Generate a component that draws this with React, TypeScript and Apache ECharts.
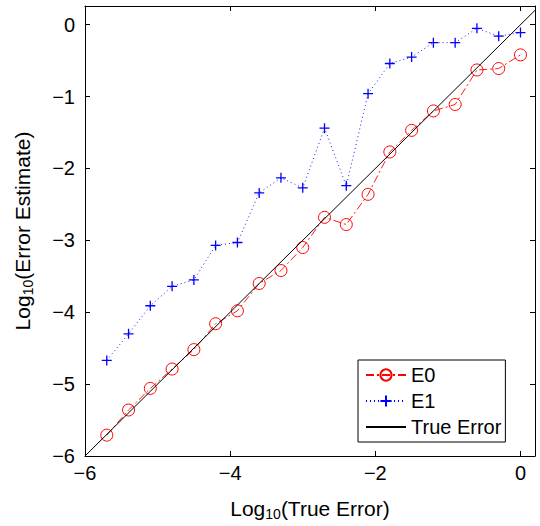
import React, { useEffect, useRef } from "react";
import * as echarts from "echarts";

const xLog = [-5.7, -5.4, -5.1, -4.8, -4.5, -4.2, -3.9, -3.6, -3.3, -3.0, -2.7, -2.4, -2.1, -1.8, -1.5, -1.2, -0.9, -0.6, -0.3, 0];
const e0 = [-5.71, -5.36, -5.06, -4.79, -4.52, -4.16, -3.98, -3.6, -3.42, -3.1, -2.68, -2.78, -2.36, -1.77, -1.47, -1.2, -1.11, -0.63, -0.61, -0.42];
const e1 = [-4.67, -4.3, -3.91, -3.64, -3.55, -3.07, -3.03, -2.34, -2.13, -2.27, -1.44, -2.24, -0.96, -0.54, -0.45, -0.25, -0.25, -0.05, -0.16, -0.11];
const trueErr = [-6, 0.2];
const xTicks = [-6, -4, -2, 0];
const yTicks = [-6, -5, -4, -3, -2, -1, 0];

const FONT = "Liberation Sans, Arial, Helvetica, sans-serif";
const fmt = (v: number) => String(v).replace("-", "\u2212");

export default function App() {
  const ref = useRef<HTMLDivElement>(null);
  useEffect(() => {
    if (!ref.current) return;
    const chart = echarts.init(ref.current, undefined, { renderer: "svg" });
    const axisCommon = {
      type: "value" as const,
      axisLine: { show: true, onZero: false, lineStyle: { color: "#000", width: 1 } },
      splitLine: { show: false },
    };
    const rich = {
      a: { fontSize: 21, fontFamily: FONT, color: "#000" },
      sub: { fontSize: 14, fontFamily: FONT, color: "#000", padding: [12, 0, 0, 0] },
    };
    chart.setOption({
      animation: false,
      grid: { left: 85, right: 5, top: 6, bottom: 67, containLabel: false },
      xAxis: [
        {
          ...axisCommon,
          min: -6,
          max: 0.2,
          position: "bottom",
          axisTick: { show: true, inside: true, length: 5, customValues: xTicks, lineStyle: { color: "#000" } },
          axisLabel: { customValues: xTicks, formatter: fmt, fontSize: 20, fontFamily: FONT, color: "#000", margin: 7 },
          name: "{a|Log}{sub|10}{a|(True Error)}",
          nameLocation: "middle",
          nameGap: 39,
          nameTextStyle: { rich },
        },
        {
          ...axisCommon,
          min: -6,
          max: 0.2,
          position: "top",
          axisTick: { show: true, inside: true, length: 5, customValues: xTicks, lineStyle: { color: "#000" } },
          axisLabel: { show: false },
        },
      ],
      yAxis: [
        {
          ...axisCommon,
          min: -6,
          max: 0.26,
          position: "left",
          axisTick: { show: true, inside: true, length: 5, customValues: yTicks, lineStyle: { color: "#000" } },
          axisLabel: { customValues: yTicks, formatter: fmt, fontSize: 20, fontFamily: FONT, color: "#000", margin: 10 },
          name: "{a|Log}{sub|10}{a|(Error Estimate)}",
          nameLocation: "middle",
          nameRotate: 90,
          nameGap: 50,
          nameTextStyle: { rich },
        },
        {
          ...axisCommon,
          min: -6,
          max: 0.26,
          position: "right",
          axisTick: { show: true, inside: true, length: 5, customValues: yTicks, lineStyle: { color: "#000" } },
          axisLabel: { show: false },
        },
      ],
      legend: {
        orient: "vertical",
        left: 358,
        top: 360,
        padding: [5, 4, 5, 7],
        itemGap: 6,
        itemWidth: 40,
        itemHeight: 14,
        backgroundColor: "#fff",
        borderColor: "#000",
        borderWidth: 1,
        textStyle: { fontSize: 20, fontFamily: FONT, color: "#000" },
        data: ["E0", "E1", { name: "True Error", itemStyle: { opacity: 0 } }],
      },
      series: [
        {
          name: "True Error",
          type: "line",
          data: trueErr.map((v) => [v, v]),
          symbol: "none",
          color: "#000",
          lineStyle: { color: "#000", width: 1 },
          z: 3,
        },
        {
          name: "E0",
          type: "line",
          data: xLog.map((x, i) => [x, e0[i]]),
          symbol: "circle",
          symbolSize: 12,
          color: "#ff0000",
          itemStyle: { color: "rgba(255,255,255,0)", borderColor: "#ff0000", borderWidth: 1 },
          lineStyle: { color: "#ff0000", width: 0.9, type: [8, 3, 2, 3] },
          z: 2,
        },
        {
          name: "E1",
          type: "line",
          data: xLog.map((x, i) => [x, e1[i]]),
          symbol: "path://M5,0L5,10M0,5L10,5",
          symbolSize: 10,
          color: "#0000ff",
          itemStyle: { color: "rgba(0,0,0,0)", borderColor: "#0000ff", borderWidth: 1.3 },
          lineStyle: { color: "#0000ff", width: 0.9, type: [1, 3] },
          z: 2,
        },
      ],
    });
    return () => chart.dispose();
  }, []);
  return <div ref={ref} style={{ width: 540, height: 526, position: "absolute", left: 0, top: 0 }} />;
}
